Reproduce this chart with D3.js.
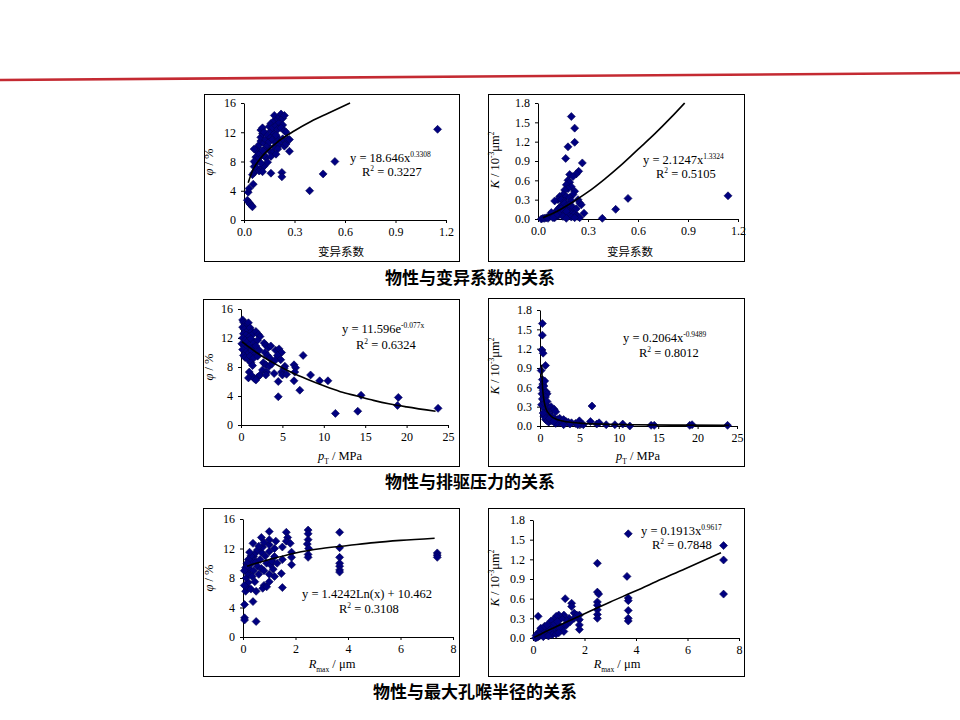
<!DOCTYPE html>
<html>
<head>
<meta charset="utf-8">
<script src="https://cdn.jsdelivr.net/npm/d3@7"></script>
<style>
  body { margin: 0; background: #fff; }
</style>
</head>
<body>
<div class="chart"></div>
<script>
// ---------- values ----------
// tick values
const cvTicks = [0, 0.3, 0.6, 0.9, 1.2];
const phiTicks = [0, 4, 8, 12, 16];
const kTicks = [0, 0.3, 0.6, 0.9, 1.2, 1.5, 1.8];
const ptTicks = [0, 5, 10, 15, 20, 25];
const rTicks = [0, 2, 4, 6, 8];

// group titles
const groupTitles = ["物性与变异系数的关系", "物性与排驱压力的关系", "物性与最大孔喉半径的关系"];

// regression labels
const eqMain = ["y = 18.646x", "y = 2.1247x", "y = 11.596e", "y = 0.2064x", "y = 1.4242Ln(x) + 10.462", "y = 0.1913x"];
const eqExp = ["0.3308", "1.3324", "-0.077x", "-0.9489", "", "0.9617"];
const r2Vals = ["0.3227", "0.5105", "0.6324", "0.8012", "0.3108", "0.7848"];

// panel 1: 变异系数 vs phi
const cv1 = [0.02,0.03,0.035,0.045,0.05,0.025,0.03,0.055,
  0.05,0.06,0.07,0.06,0.07,0.08,0.07,0.06,0.08,0.09,0.1,0.11,0.12,0.1,0.09,0.085,0.07,0.08,0.06,
  0.09,0.1,0.1,0.11,0.1,0.11,0.12,0.12,0.13,0.13,0.14,0.14,0.15,0.15,0.16,0.16,0.17,0.17,0.18,0.18,0.19,0.2,0.21,0.2,0.22,0.23,0.24,0.25,0.26,0.27,0.27,0.13,0.14,0.12,0.11,0.16,0.19,
  0.15,0.16,0.17,0.18,0.18,0.19,0.2,0.2,0.21,0.21,0.22,0.23,0.23,0.24,0.22,0.24,0.25,0.19,
  0.16,0.225,0.225,0.11,0.39,0.47,0.54,1.15];
const phi1 = [2.7,2.4,2.2,2.0,1.8,3.8,4.3,4.9,
  6.2,6.5,6.8,7.3,7.8,8.2,8.6,8.0,7.0,6.7,6.9,7.2,7.4,7.8,8.5,9.2,9.6,9.9,9.7,
  10.3,10.8,11.3,11.8,12.3,12.6,12.0,10.5,9.8,11.0,11.6,10.2,9.5,10.7,11.3,12.2,11.0,9.2,10.0,11.8,10.6,11.2,10.3,9.7,10.8,11.1,10.1,10.4,11.0,11.0,9.4,8.5,7.9,8.9,9.5,8.7,9.0,
  12.8,13.2,12.6,13.6,14.3,12.9,13.8,12.4,13.3,14.1,14.5,13.9,13.0,14.3,12.6,12.2,12.0,11.6,
  6.4,6.5,5.9,6.6,4.0,6.3,8.0,12.4];
const trendCv1 = [0.025,0.05,0.1,0.15,0.2,0.3,0.4,0.5,0.63];
const trendPhi1 = [5.1,6.7,8.5,9.7,10.7,12.2,13.5,14.6,16.0];

// panel 2: 变异系数 vs K
const cv2 = [0.2,0.22,0.22,0.18,0.166,0.266,0.244,0.23,0.19,0.21,
  0.18,0.19,0.17,0.2,0.18,0.16,0.22,0.21,0.15,0.13,0.17,0.19,0.24,0.25,0.26,0.12,0.14,0.1,0.2,0.16,
  0.02,0.03,0.04,0.05,0.06,0.07,0.08,0.09,0.1,0.11,0.12,0.13,0.14,0.15,0.16,0.17,0.18,0.19,0.2,0.21,0.22,0.23,0.24,0.25,
  0.12,0.14,0.16,0.18,0.2,0.22,0.1,0.13,0.15,0.17,0.19,0.21,0.23,0.11,0.08,0.06,0.09,0.15,0.17,0.14,
  0.276,0.386,0.466,0.54,1.14];
const k2 = [1.59,1.41,1.19,1.12,0.94,0.87,0.74,0.7,0.69,0.66,
  0.6,0.57,0.53,0.5,0.47,0.45,0.43,0.38,0.38,0.35,0.35,0.33,0.3,0.25,0.22,0.3,0.3,0.28,0.28,0.27,
  0.0,0.01,0.01,0.02,0.03,0.04,0.05,0.07,0.09,0.12,0.15,0.18,0.2,0.22,0.24,0.2,0.18,0.15,0.12,0.1,0.08,0.05,0.04,0.02,
  0.05,0.07,0.1,0.06,0.03,0.02,0.02,0.1,0.14,0.12,0.22,0.18,0.16,0.06,0.1,0.01,0.02,0.04,0.01,0.16,
  0.09,0.01,0.15,0.32,0.36];
const trendCv2 = [0.03,0.1,0.2,0.3,0.4,0.5,0.6,0.7,0.8,0.88];
const trendK2 = [0.02,0.1,0.25,0.42,0.62,0.84,1.08,1.32,1.58,1.8];

// panel 3: pT vs phi
const pt3 = [0.2,0.3,0.5,0.7,0.9,0.2,0.4,0.8,1.1,1.3,0.3,0.6,1.0,1.5,1.8,2.1,2.3,0.2,0.5,0.8,1.2,1.6,2.0,0.1,0.4,0.7,1.0,1.4,1.8,0.2,0.6,0.9,1.3,1.7,2.2,0.3,0.5,0.8,1.1,1.5,2.0,1.2,1.4,1.0,1.3,0.9,1.6,2.0,1.8,2.3,
  2.8,3.0,3.3,3.6,2.9,3.2,3.5,4.2,4.6,4.9,4.4,4.8,4.1,2.7,3.0,3.4,3.7,2.6,3.1,3.0,4.0,4.9,5.0,4.5,4.5,5.3,5.2,5.5,
  6.4,6.6,6.5,6.4,7.1,7.5,8.4,9.5,10.5,11.4,14.1,14.5,19.0,18.9,23.8];
const phi3 = [14.5,14.2,14.0,13.8,14.1,13.5,13.2,13.0,13.4,12.9,12.6,12.4,12.2,12.6,12.9,12.5,12.2,12.0,11.7,11.5,11.9,11.4,11.7,11.2,10.9,10.7,11.0,10.6,10.9,10.4,10.1,9.9,10.2,9.8,10.3,9.6,9.3,9.1,9.5,9.2,9.5,8.6,8.2,7.3,6.8,6.5,6.4,6.6,6.2,6.9,
  11.3,11.0,10.7,10.9,10.0,9.6,9.2,10.3,10.5,10.0,9.6,9.0,8.9,8.6,8.3,8.1,8.4,7.6,7.3,6.9,7.1,7.3,6.9,6.0,3.9,8.1,7.8,7.0,
  8.3,7.9,7.3,6.1,4.8,9.6,6.9,6.1,6.1,1.6,1.9,4.1,3.8,2.7,2.3];
const trendPt3 = [0.1,2,4,6,8,10,12,14,16,18,20,23.5];
const trendPhi3 = [11.5,9.9,8.5,7.3,6.3,5.4,4.6,4.0,3.4,2.9,2.5,1.9];

// panel 4: pT vs K
const pt4 = [0.3,0.3,0.25,0.4,0.7,0.15,0.3,0.35,0.2,0.25,0.3,0.2,0.4,0.5,0.6,0.8,0.9,0.7,0.5,0.6,0.9,1.0,1.2,1.4,1.6,1.8,2.0,0.6,0.8,1.0,1.3,1.5,1.8,2.2,2.5,2.8,3.0,3.3,3.6,4.0,0.7,0.9,1.1,1.4,0.5,0.4,1.2,
  4.5,5.0,5.2,5.5,6.4,6.6,7.2,7.5,8.4,9.5,10.5,11.4,14.1,14.5,19.0,19.3,23.8,2.4,3.8,4.8,3.0,2.0,1.7];
const k4 = [1.59,1.41,1.18,1.13,0.94,0.86,0.72,0.65,0.6,0.5,0.42,0.33,0.55,0.62,0.7,0.53,0.5,0.45,0.4,0.35,0.38,0.3,0.28,0.3,0.25,0.26,0.22,0.26,0.22,0.18,0.16,0.14,0.12,0.1,0.12,0.08,0.1,0.07,0.06,0.05,0.1,0.08,0.06,0.08,0.15,0.2,0.12,
  0.04,0.08,0.03,0.02,0.07,0.31,0.03,0.05,0.02,0.02,0.03,0.0,0.01,0.01,0.01,0.02,0.01,0.05,0.03,0.02,0.02,0.04,0.07];
const trendPt4 = [0.2,0.3,0.5,0.75,1,1.5,2,3,5,8,12,18,24];
const trendK4 = [0.95,0.65,0.4,0.27,0.21,0.14,0.11,0.073,0.045,0.029,0.019,0.013,0.01];

// panel 5: Rmax vs phi
const r5 = [0.06,0.06,0.06,0.5,0.38,
  0.1,0.15,0.2,0.12,0.2,0.25,0.15,0.3,0.35,0.4,0.45,0.3,0.5,0.55,0.4,0.35,0.45,0.3,0.5,0.6,0.7,0.65,0.7,0.75,0.7,0.38,0.8,0.85,0.9,0.8,0.8,0.75,0.9,1.0,1.0,1.05,1.0,1.0,1.0,1.0,1.1,1.15,1.2,1.25,1.2,1.3,1.2,1.5,1.46,1.5,1.5,1.65,1.7,1.65,1.8,1.85,1.85,1.85,0.2,0.25,0.55,0.6,0.15,0.1,0.05,0.05,
  2.48,2.48,2.48,2.45,2.5,2.48,2.48,3.68,3.68,3.68,3.68,3.68,3.68,3.68,7.4,7.4,7.4];
const phi5 = [4.4,2.6,2.3,2.1,4.8,
  6.2,6.8,7.4,8.0,8.6,9.2,9.6,9.9,10.4,10.9,11.3,11.0,10.2,9.6,9.0,8.2,7.5,6.5,6.2,8.5,9.3,10.5,11.5,12.2,13.5,12.7,12.8,11.0,10.0,9.0,7.0,6.6,6.8,7.5,8.5,9.8,11.6,12.5,13.2,14.3,10.3,9.2,12.0,13.0,10.9,10.0,8.2,6.7,8.6,10.5,12.2,14.2,13.5,13.0,12.7,11.5,10.8,9.8,10.5,11.5,11.8,12.3,10.0,9.4,9.0,7.0,
  14.5,14.0,13.2,12.6,12.0,11.2,10.8,14.2,12.1,10.8,10.0,9.6,9.1,8.8,11.4,11.1,10.8];
const trendR5 = [0.15,0.5,1,2,3,4,5,6,7.3];
const trendPhi5 = [9.6,10.0,10.5,11.4,12.0,12.4,12.8,13.1,13.4];

// panel 6: Rmax vs K
const r6 = [3.7,7.4,7.4,7.4,2.5,3.65,3.7,3.7,3.7,3.7,3.7,
  2.5,2.55,2.5,2.5,2.5,2.5,2.5,1.25,1.5,1.5,1.8,1.8,1.8,1.8,0.2,
  1.6,1.7,1.4,1.3,1.2,1.1,1.0,0.9,0.8,0.7,1.0,1.2,1.1,0.9,0.8,0.7,0.6,0.5,0.6,0.5,0.4,0.35,0.3,0.25,0.2,0.15,0.1,0.3,0.45,0.55,0.65,0.75,0.85,0.95,1.05,1.3,1.45,1.6,0.4,0.6,0.9,1.2,1.0,0.2,0.12];
const k6 = [1.59,1.41,1.19,0.67,1.14,0.94,0.61,0.57,0.42,0.3,0.26,
  0.7,0.67,0.55,0.5,0.43,0.36,0.3,0.6,0.53,0.48,0.35,0.28,0.2,0.13,0.33,
  0.38,0.35,0.3,0.27,0.35,0.3,0.35,0.33,0.28,0.26,0.2,0.18,0.12,0.15,0.1,0.18,0.15,0.12,0.08,0.05,0.08,0.12,0.05,0.03,0.02,0.01,0.0,0.15,0.18,0.2,0.12,0.05,0.22,0.25,0.15,0.2,0.25,0.3,0.02,0.03,0.06,0.1,0.08,0.08,0.04];
const trendR6 = [0.05,0.5,1,2,3,4,5,6,7.3];
const trendK6 = [0.01,0.1,0.19,0.37,0.55,0.72,0.9,1.07,1.3];

// ---------- drawing ----------
const W = 960, H = 720;
const navy = "#000080";

const svg = d3.select(".chart").append("svg")
  .attr("width", W).attr("height", H)
  .style("font-family", "'Liberation Serif', 'Times New Roman', serif");

// red rule at the top
svg.append("line")
  .attr("x1", 0).attr("y1", 80).attr("x2", W).attr("y2", 73)
  .attr("stroke", "#c42a32").attr("stroke-width", 2.6);

// text with italic / super / subscript parts
function rich(text, parts, fs) {
  let shift = 0;
  parts.forEach(function (p) {
    const s = p.sup ? -0.42 * fs : p.sub ? 0.3 * fs : 0;
    text.append("tspan")
      .attr("dy", s - shift)
      .style("font-size", (p.sup || p.sub ? fs * 0.6 : fs) + "px")
      .style("font-style", p.it ? "italic" : "normal")
      .style("font-family", p.cjk ? "'Noto Sans CJK SC', sans-serif" : null)
      .attr("fill", "#000")
      .text(p.t);
    shift = s;
  });
}

const labCv = [{ t: "变异系数", cjk: true }];
const labPhi = [{ t: "φ", it: true }, { t: " / %" }];
const labK = [{ t: "K", it: true }, { t: " / 10" }, { t: "-3", sup: true }, { t: "μm" }, { t: "2", sup: true }];
const labPt = [{ t: "p", it: true }, { t: "T", sub: true }, { t: " / MPa" }];
const labR = [{ t: "R", it: true }, { t: "max", sub: true }, { t: " / μm" }];

const panels = [
  { box: [204, 94, 459, 261], xr: [244, 446], yr: [220, 103], xd: [0, 1.2], yd: [0, 16],
    xt: cvTicks, yt: phiTicks, xf: ".1f", yf: "d", xs: cv1, ys: phi1, tx: trendCv1, ty: trendPhi1,
    xl: labCv, yl: labPhi, xlPos: [341, 256], ylPos: [213, 162], eq: [350, 162], r2: [362, 176] },
  { box: [488, 94, 744, 261], xr: [538, 738], yr: [219, 103], xd: [0, 1.2], yd: [0, 1.8],
    xt: cvTicks, yt: kTicks, xf: ".1f", yf: ".1f", xs: cv2, ys: k2, tx: trendCv2, ty: trendK2,
    xl: labCv, yl: labK, xlPos: [630, 256], ylPos: [499, 160], eq: [643, 164], r2: [656, 178] },
  { box: [203, 299, 459, 466], xr: [241, 448], yr: [425, 309], xd: [0, 25], yd: [0, 16],
    xt: ptTicks, yt: phiTicks, xf: "d", yf: "d", xs: pt3, ys: phi3, tx: trendPt3, ty: trendPhi3,
    xl: labPt, yl: labPhi, xlPos: [340, 460], ylPos: [213, 367], eq: [342, 333], r2: [356, 349] },
  { box: [488, 298, 744, 466], xr: [540, 737], yr: [426, 310], xd: [0, 25], yd: [0, 1.8],
    xt: ptTicks, yt: kTicks, xf: "d", yf: ".1f", xs: pt4, ys: k4, tx: trendPt4, ty: trendK4,
    xl: labPt, yl: labK, xlPos: [638, 460], ylPos: [499, 366], eq: [623, 342], r2: [639, 357] },
  { box: [203, 508, 459, 676], xr: [243, 453], yr: [637, 519], xd: [0, 8], yd: [0, 16],
    xt: rTicks, yt: phiTicks, xf: "d", yf: "d", xs: r5, ys: phi5, tx: trendR5, ty: trendPhi5,
    xl: labR, yl: labPhi, xlPos: [332, 668], ylPos: [213, 578], eq: [302, 598], r2: [339, 613] },
  { box: [488, 508, 744, 676], xr: [533, 739], yr: [638, 520], xd: [0, 8], yd: [0, 1.8],
    xt: rTicks, yt: kTicks, xf: "d", yf: ".1f", xs: r6, ys: k6, tx: trendR6, ty: trendK6,
    xl: labR, yl: labK, xlPos: [617, 668], ylPos: [499, 578], eq: [641, 535], r2: [652, 549] }
];

const diamond = "M0,-4L4,0L0,4L-4,0Z";

panels.forEach(function (p, i) {
  const g = svg.append("g");

  // chart box
  g.append("rect")
    .attr("x", p.box[0] + 0.5).attr("y", p.box[1] + 0.5)
    .attr("width", p.box[2] - p.box[0]).attr("height", p.box[3] - p.box[1])
    .attr("fill", "#fff").attr("stroke", "#000").attr("stroke-width", 1);

  const x = d3.scaleLinear().domain(p.xd).range(p.xr);
  const y = d3.scaleLinear().domain(p.yd).range(p.yr);

  const xAxis = d3.axisBottom(x).tickValues(p.xt).tickFormat(d3.format(p.xf))
    .tickSize(3).tickSizeOuter(0).tickPadding(4);
  const yAxis = d3.axisLeft(y).tickValues(p.yt).tickFormat(d3.format(p.yf))
    .tickSize(3).tickSizeOuter(0).tickPadding(5);

  const gx = g.append("g").attr("transform", "translate(0," + p.yr[0] + ")").call(xAxis);
  const gy = g.append("g").attr("transform", "translate(" + p.xr[0] + ",0)").call(yAxis);
  [gx, gy].forEach(function (a) {
    a.selectAll("text").style("font-size", "12px").style("font-family", "'Liberation Serif', serif").attr("fill", "#000");
    a.selectAll("line, path").attr("stroke", "#000");
  });

  // points
  g.append("g").selectAll("path")
    .data(p.xs)
    .enter()
    .append("path")
    .attr("d", diamond)
    .attr("transform", (d, j) => "translate(" + x(d) + "," + y(p.ys[j]) + ")")
    .attr("fill", navy)
    .attr("stroke", "#000050")
    .attr("stroke-width", 0.6);

  // trend line
  const line = d3.line()
    .x((d) => x(d))
    .y((d, j) => y(p.ty[j]))
    .curve(d3.curveMonotoneX);
  g.append("path")
    .datum(p.tx)
    .attr("d", line)
    .attr("fill", "none")
    .attr("stroke", "#000")
    .attr("stroke-width", 1.6);

  // regression labels
  const eq = g.append("text").attr("x", p.eq[0]).attr("y", p.eq[1]).attr("fill", "#000");
  const eqParts = [{ t: eqMain[i] }];
  if (eqExp[i] !== "") eqParts.push({ t: eqExp[i], sup: true });
  rich(eq, eqParts, 12.5);
  const r2 = g.append("text").attr("x", p.r2[0]).attr("y", p.r2[1]).attr("fill", "#000");
  rich(r2, [{ t: "R" }, { t: "2", sup: true }, { t: " = " + r2Vals[i] }], 12.5);

  // axis titles
  const xl = g.append("text").attr("x", p.xlPos[0]).attr("y", p.xlPos[1])
    .attr("text-anchor", "middle").attr("fill", "#000");
  rich(xl, p.xl, p.xl[0].cjk ? 11.5 : 12.5);
  const yl = g.append("text")
    .attr("transform", "translate(" + p.ylPos[0] + "," + p.ylPos[1] + ") rotate(-90)")
    .attr("text-anchor", "middle").attr("dy", "0.35em").attr("fill", "#000");
  rich(yl, p.yl, 12.5);
});

// group titles
const titleY = [284, 488, 698];
const titleX = [470, 470, 475];
groupTitles.forEach(function (t, i) {
  svg.append("text")
    .attr("x", titleX[i]).attr("y", titleY[i])
    .attr("text-anchor", "middle")
    .style("font-family", "'Noto Sans CJK SC', sans-serif")
    .style("font-weight", "bold")
    .style("font-size", "17px")
    .text(t);
});
</script>
</body>
</html>
